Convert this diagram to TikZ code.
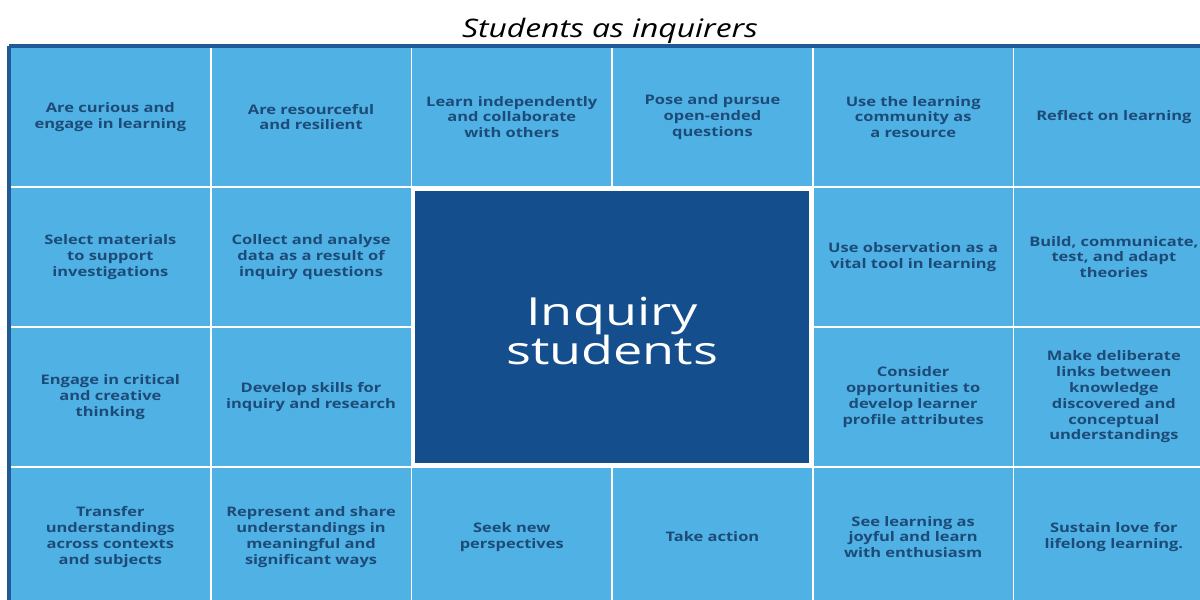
\documentclass[tikz,border=0pt]{standalone}
\usepackage{fontspec}
\setmainfont{Open Sans}
\newfontfamily\cellfont[FakeStretch=1.25]{Open Sans}
\newfontfamily\hubfont[FakeStretch=1.35]{Open Sans}
\definecolor{sky}{HTML}{50B1E4}
\definecolor{navy}{HTML}{144E8C}
\definecolor{ink}{HTML}{1D4B78}
\definecolor{rimblue}{HTML}{1F5A96}
\begin{document}
\begin{tikzpicture}
        [cell/.style={rectangle, draw=white, line width=1pt, fill=sky,
            minimum width=4.014cm, minimum height=2.8cm, align=center,
            text=ink, font=\cellfont\bfseries\fontsize{7.5}{9}\selectfont},
        hub/.style={rectangle, draw=white, line width=1.8pt, fill=navy,
            minimum width=7.95cm, minimum height=5.52cm, align=center,
            text=white, font=\hubfont\fontsize{22}{22}\selectfont},
        border/.style={rimblue, line width=2pt},
        inner sep=0pt]

        \useasboundingbox (0,0) rectangle (24,11.98);
        \clip (0,0) rectangle (24,11.98);

        \node[font=\cellfont\itshape\fontsize{14.5}{16}\selectfont] (title) at (12.2, 11.36) {Students as inquirers};

        % first row
        \node[cell] (curious) at (2.207, 9.64) {Are curious and\\engage in learning};
        \node[cell] (resourceful) at (6.221, 9.64) {Are resourceful\\and resilient};
        \node[cell] (independent) at (10.235, 9.64) {Learn independently\\and collaborate\\with others};
        \node[cell] (pose) at (14.249, 9.64) {Pose and pursue\\open-ended\\questions};
        \node[cell] (community) at (18.263, 9.64) {Use the learning\\community as\\a resource};
        \node[cell] (reflect) at (22.277, 9.64) {Reflect on learning};

        % second row
        \node[cell] (materials) at (2.207, 6.84) {Select materials\\to support\\investigations};
        \node[cell] (collect) at (6.221, 6.84) {Collect and analyse\\data as a result of\\inquiry questions};
        \node[cell] (observe) at (18.263, 6.84) {Use observation as a\\vital tool in learning};
        \node[cell] (theories) at (22.277, 6.84) {Build, communicate,\\test, and adapt\\theories};

        % third row
        \node[cell] (critical) at (2.207, 4.04) {Engage in critical\\and creative\\thinking};
        \node[cell] (skills) at (6.221, 4.04) {Develop skills for\\inquiry and research};
        \node[cell] (profile) at (18.263, 4.04) {Consider\\opportunities to\\develop learner\\profile attributes};
        \node[cell] (links) at (22.277, 4.04) {Make deliberate\\links between\\knowledge\\discovered and\\conceptual\\understandings};

        % fourth row
        \node[cell] (transfer) at (2.207, 1.24) {Transfer\\understandings\\across contexts\\and subjects};
        \node[cell] (represent) at (6.221, 1.24) {Represent and share\\understandings in\\meaningful and\\significant ways};
        \node[cell] (perspectives) at (10.235, 1.24) {Seek new\\perspectives};
        \node[cell] (action) at (14.249, 1.24) {Take action};
        \node[cell] (joyful) at (18.263, 1.24) {See learning as\\joyful and learn\\with enthusiasm};
        \node[cell] (sustain) at (22.277, 1.24) {Sustain love for\\lifelong learning.};

        % centre block
        \node[hub] (inquiry) at (12.242, 5.44) {};
        \node[text=white, align=center, font=\hubfont\fontsize{22}{22}\selectfont] (hubtext) at (12.242, 5.36) {Inquiry\\students};

        % outer rim
        \draw[border] (curious.north west) -- (reflect.north east);
        \draw[border, line width=2.3pt] (curious.north west) -- (transfer.south west);

\end{tikzpicture}
\end{document}
